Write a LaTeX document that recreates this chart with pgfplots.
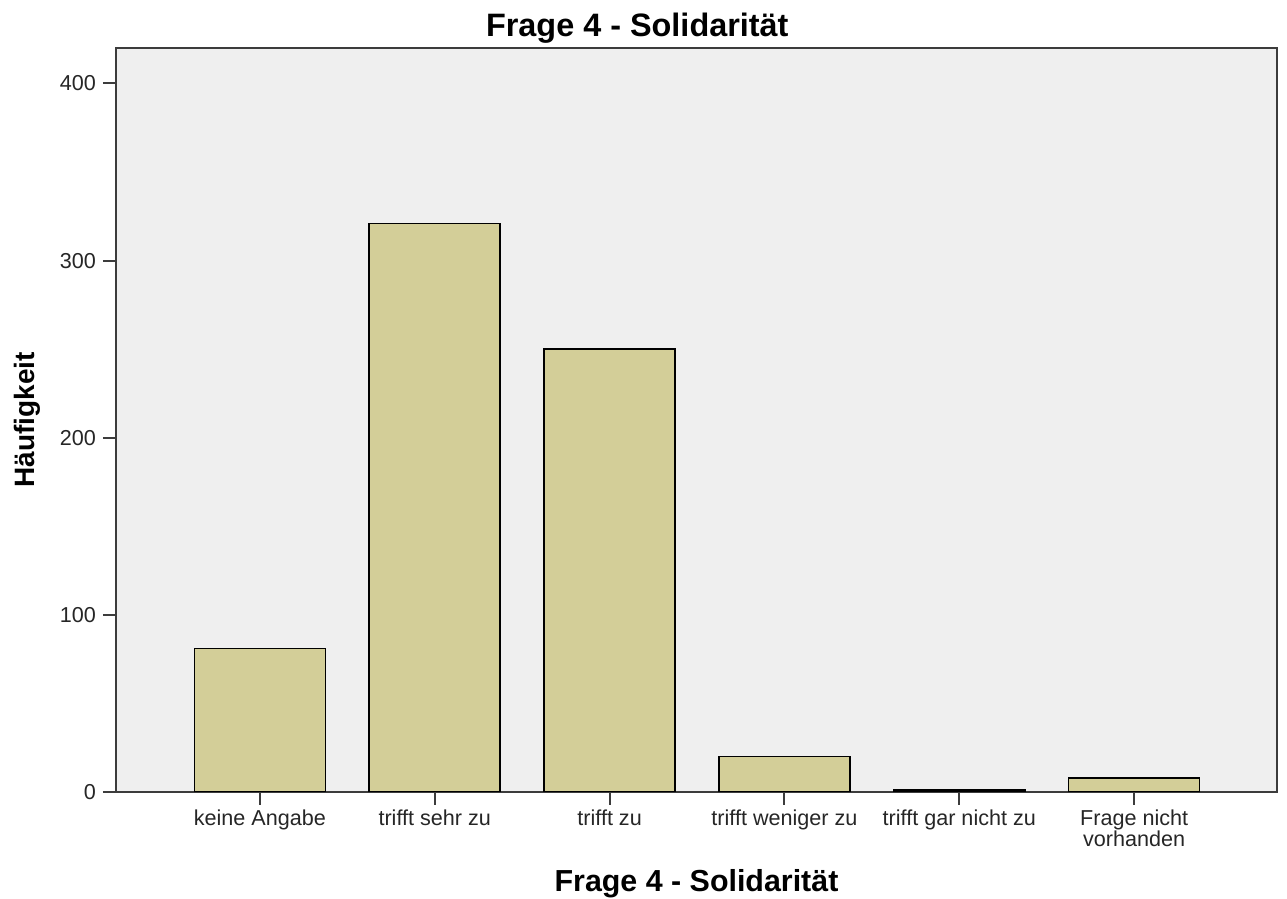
\documentclass[border=0pt]{standalone}
\usepackage{pgfplots}
\pgfplotsset{compat=1.18}
\usepackage{fontspec}
\setmainfont{Liberation Sans}
\definecolor{barfill}{HTML}{D3CE98}
\definecolor{bgc}{HTML}{EFEFEF}
\definecolor{axc}{HTML}{3C3C3C}
\begin{document}
\begin{tikzpicture}
\path[use as bounding box] (-58pt,-53.5pt) rectangle (585.5pt,396pt);
\begin{axis}[
  scale only axis,
  width=580.5pt, height=372pt,
  xmin=-0.823, xmax=5.817,
  ymin=0, ymax=420,
  axis background/.style={fill=bgc},
  axis line style={axc, line width=1.1pt},
  xtick={0,1,2,3,4,5},
  xticklabels={keine Angabe, trifft sehr zu, trifft zu, trifft weniger zu, trifft gar nicht zu, {Frage nicht\\vorhanden}},
  ytick={0,100,200,300,400},
  xtick pos=left, ytick pos=left,
  tick align=outside,
  major tick length=6.5pt,
  tick style={axc, line width=1pt},
  /pgf/number format/assume math mode=true,
  tick label style={font=\fontsize{10.8}{10.4}\selectfont, text=black!85},
  xticklabel style={align=center, anchor=north, yshift=1pt},
  title={Frage 4 - Solidarität},
  title style={font=\fontsize{16.2}{18}\selectfont\bfseries, at={(axis description cs:0.449,1.0108)}, anchor=center},
  xlabel={Frage 4 - Solidarität},
  xlabel style={font=\fontsize{15.2}{17}\selectfont\bfseries, at={(axis description cs:0.5,-0.1234)}, anchor=center},
  ylabel={Häufigkeit},
  ylabel style={font=\fontsize{14}{16}\selectfont\bfseries, at={(axis description cs:-0.0767,0.5)}, anchor=center, rotate=0},
]
\addplot[ybar, bar width=65.5pt, fill=barfill, draw=black, line width=0.8pt]
  coordinates {(0,81) (1,321) (2,250) (3,20) (4,1) (5,8)};
\end{axis}
\end{tikzpicture}
\end{document}
